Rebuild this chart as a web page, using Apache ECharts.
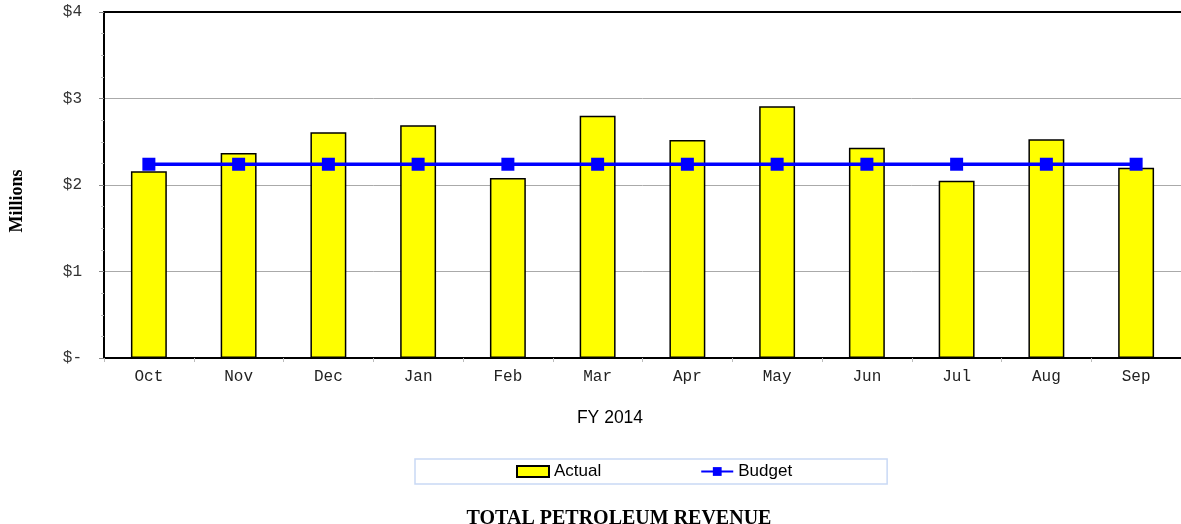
<!DOCTYPE html>
<html>
<head>
<meta charset="utf-8">
<script src="https://cdn.jsdelivr.net/npm/echarts@6/dist/echarts.min.js"></script>
<style>
  html, body { margin: 0; padding: 0; background: #fff; }
  #chart { width: 1181px; height: 524px; }
</style>
</head>
<body>
<div id="chart"></div>
<script>
// 月份
var months = ['Oct', 'Nov', 'Dec', 'Jan', 'Feb', 'Mar', 'Apr', 'May', 'Jun', 'Jul', 'Aug', 'Sep'];
// 实际收入（百万美元）
var actual = [2.16, 2.37, 2.61, 2.69, 2.08, 2.80, 2.52, 2.91, 2.43, 2.05, 2.53, 2.20];
// 预算
var budget = [2.24, 2.24, 2.24, 2.24, 2.24, 2.24, 2.24, 2.24, 2.24, 2.24, 2.24, 2.24];

var mono = '"Liberation Mono", "DejaVu Sans Mono", monospace';
var serif = '"Liberation Serif", "DejaVu Serif", serif';
var sans = '"Liberation Sans", Arial, sans-serif';

var myChart = echarts.init(document.getElementById('chart'));
var option = {
  animation: false,
  title: {
    text: 'TOTAL PETROLEUM REVENUE',
    left: 614,
    textAlign: 'center',
    top: 504,
    textStyle: { fontFamily: serif, fontSize: 20, fontWeight: 'bold', color: '#000' }
  },
  // 轴标题
  graphic: [
    {
      type: 'text',
      x: 610,
      y: 418,
      style: {
        text: 'FY 2014',
        font: '17.5px ' + sans,
        fill: '#000',
        textAlign: 'center',
        textVerticalAlign: 'middle'
      }
    },
    {
      type: 'text',
      x: 17,
      y: 201,
      rotation: Math.PI / 2,
      style: {
        text: 'Millions',
        font: 'bold 18px ' + serif,
        fill: '#000',
        textAlign: 'center',
        textVerticalAlign: 'middle'
      }
    }
  ],
  legend: {
    data: [
      { name: 'Actual', icon: 'rect' },
      { name: 'Budget' }
    ],
    left: 415,
    top: 459,
    padding: [4, 95, 4, 101],
    itemGap: 99,
    itemWidth: 32,
    itemHeight: 11,
    borderColor: '#c9d9f5',
    borderWidth: 1.5,
    backgroundColor: '#fff',
    textStyle: { fontFamily: sans, fontSize: 17, color: '#000' }
  },
  grid: {
    left: 104,
    right: 0,
    top: 12,
    bottom: 166
  },
  xAxis: [
    {
      type: 'category',
      data: months,
      axisLine: { lineStyle: { color: '#000', width: 2 } },
      axisTick: { show: true, length: 4, lineStyle: { color: '#bbb' } },
      axisLabel: { fontFamily: mono, fontSize: 16, color: '#222', margin: 11 }
    },
    {
      type: 'category',
      data: months,
      position: 'top',
      axisLine: { lineStyle: { color: '#000', width: 2 } },
      axisTick: { show: false },
      axisLabel: { show: false }
    }
  ],
  yAxis: {
    type: 'value',
    min: 0,
    max: 4,
    interval: 1,
    axisLine: { show: true, lineStyle: { color: '#000', width: 2 } },
    axisTick: { show: true, length: 5, lineStyle: { color: '#888' } },
    minorTick: { show: true, splitNumber: 4, length: 3, lineStyle: { color: '#bbb' } },
    splitLine: { lineStyle: { color: '#aaa', width: 1 } },
    axisLabel: {
      fontFamily: mono,
      fontSize: 16,
      color: '#333',
      margin: 22,
      formatter: function (v) { return v === 0 ? '$-' : '$' + v; }
    }
  },
  series: [
    {
      name: 'Actual',
      type: 'bar',
      data: actual,
      barWidth: '40%',
      itemStyle: { color: '#ffff00', borderColor: '#000', borderWidth: 1.5 }
    },
    {
      name: 'Budget',
      type: 'line',
      data: budget,
      symbol: 'rect',
      symbolSize: 13,
      lineStyle: { color: '#0000ff', width: 3.5 },
      itemStyle: { color: '#0000ff' }
    }
  ]
};
// 把配置给实例对象
myChart.setOption(option);
</script>
</body>
</html>
